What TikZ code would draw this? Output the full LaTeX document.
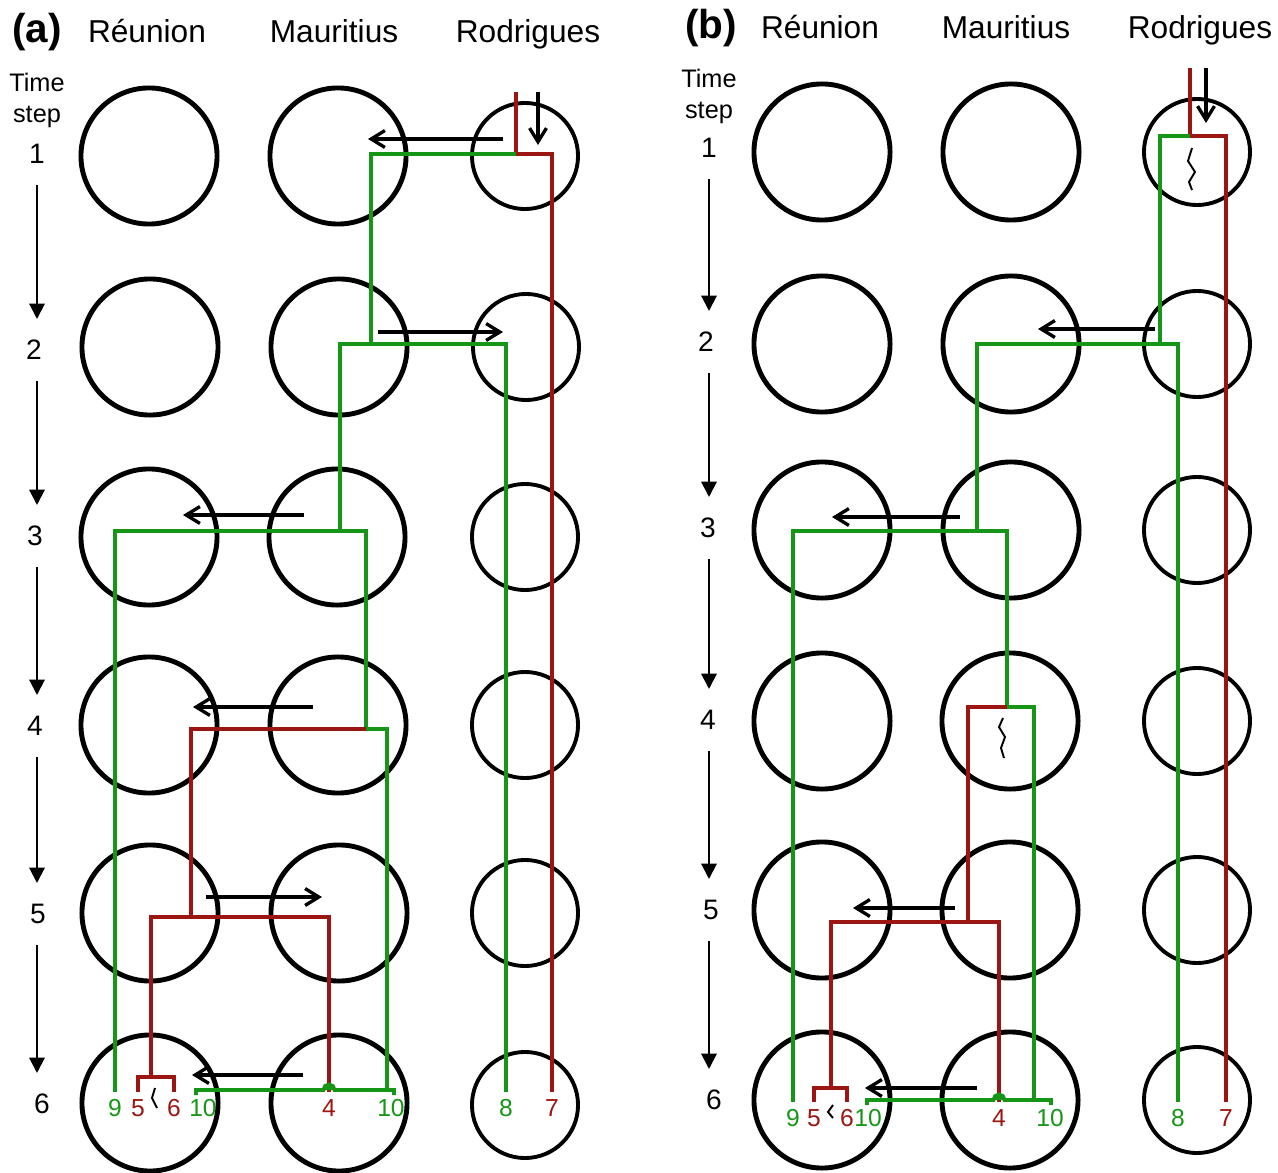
\documentclass[tikz,border=0pt]{standalone}
\usepackage{fontspec}
\setmainfont{Liberation Sans}
\usepackage{xcolor}
\usetikzlibrary{arrows.meta,calc}

\definecolor{lingreen}{RGB}{22,150,22}
\definecolor{linred}{RGB}{155,22,18}

\begin{document}
\begin{tikzpicture}[x=0.01cm, y=-0.01cm]

\tikzstyle{bigisle} = [circle, draw, line width=1.4pt, minimum size=1.36cm, inner sep=0pt]
\tikzstyle{smallisle} = [circle, draw, line width=1.1pt, minimum size=1.06cm, inner sep=0pt]
\tikzstyle{isletitle} = [font=\fontsize{9}{11}\selectfont, anchor=base]
\tikzstyle{paneltitle} = [font=\bfseries\fontsize{11.5}{13}\selectfont, anchor=base]
\tikzstyle{timelabel} = [font=\fontsize{7.2}{8.8}\selectfont, align=center]
\tikzstyle{stepnum} = [font=\fontsize{8}{10}\selectfont]
\tikzstyle{leaf} = [font=\fontsize{7}{8}\selectfont, inner sep=2pt]
\tikzstyle{glin} = [lingreen, line width=1.1pt]
\tikzstyle{rlin} = [linred, line width=1.1pt]
\tikzstyle{mig} = [line width=0.95pt, -{Straight Barb[length=3.9pt,width=4.8pt]}]
\tikzstyle{tarrow} = [line width=0.6pt, -{Triangle[length=4.4pt,width=4.4pt]}, shorten <=3.1mm, shorten >=3.1mm]
\tikzstyle{zig} = [line width=0.55pt]

\useasboundingbox (0,0) rectangle (1278,1173);

% panel (a)
\node[paneltitle] (atitle) at (37,43) {(a)};
\node[isletitle] (areuT) at (147,43) {Réunion};
\node[isletitle] (amauT) at (334,43) {Mauritius};
\node[isletitle] (arodT) at (528,43) {Rodrigues};
\node[timelabel] (atime) at (37,100) {Time\\step};

\node[stepnum] (at1) at (37,154) {1};
\node[stepnum] (at2) at (34,350) {2};
\node[stepnum] (at3) at (35,536) {3};
\node[stepnum] (at4) at (35,726) {4};
\node[stepnum] (at5) at (38,914) {5};
\node[stepnum] (at6) at (42,1104) {6};

\node[bigisle] (aReu1) at (149,156) {};
\node[bigisle] (aMau1) at (338,156) {};
\node[smallisle] (aRod1) at (525,156) {};
\node[bigisle] (aReu2) at (150,347) {};
\node[bigisle] (aMau2) at (339,347) {};
\node[smallisle] (aRod2) at (526,347) {};
\node[bigisle] (aReu3) at (149,537) {};
\node[bigisle] (aMau3) at (337,537) {};
\node[smallisle] (aRod3) at (525,537) {};
\node[bigisle] (aReu4) at (149,725) {};
\node[bigisle] (aMau4) at (338,725) {};
\node[smallisle] (aRod4) at (525,725) {};
\node[bigisle] (aReu5) at (150,913) {};
\node[bigisle] (aMau5) at (339,913) {};
\node[smallisle] (aRod5) at (525,913) {};
\node[bigisle] (aReu6) at (150,1103) {};
\node[bigisle] (aMau6) at (339,1103) {};
\node[smallisle] (aRod6) at (525,1105) {};

\draw[tarrow] (at1.center) -- (at1.center |- at2.center);
\draw[tarrow] (at2.center -| at1.center) -- (at1.center |- at3.center);
\draw[tarrow] (at3.center -| at1.center) -- (at1.center |- at4.center);
\draw[tarrow] (at4.center -| at1.center) -- (at1.center |- at5.center);
\draw[tarrow] (at5.center -| at1.center) -- (at1.center |- at6.center);

\draw[mig] ($(aRod1)+(13,-64)$) -- ($(aRod1)+(13,-11)$);
\draw[mig] ($(aRod1)+(-22,-17)$) -- ($(aMau1)+(30,-17)$);
\draw[mig] ($(aMau2)+(39,-15)$) -- ($(aRod2)+(-23,-15)$);
\draw[mig] ($(aMau3)+(-33,-22)$) -- ($(aReu3)+(34,-22)$);
\draw[mig] ($(aMau4)+(-25,-18)$) -- ($(aReu4)+(44,-18)$);
\draw[mig] ($(aReu5)+(56,-16)$) -- ($(aMau5)+(-17,-16)$);
\draw[mig] ($(aMau6)+(-36,-28)$) -- ($(aReu6)+(42,-28)$);

\node[leaf, text=lingreen] (al9) at (115,1108) {9};
\node[leaf, text=linred] (al5) at (138,1108) {5};
\node[leaf, text=linred] (al6) at (174,1108) {6};
\node[leaf, text=lingreen] (al10a) at (203,1108) {10};
\node[leaf, text=linred] (al4) at (329,1108) {4};
\node[leaf, text=lingreen] (al10b) at (391,1108) {10};
\node[leaf, text=lingreen] (al8) at (506,1108) {8};
\node[leaf, text=linred] (al7) at (552,1108) {7};

\coordinate (aroot) at (516,92);
\coordinate (aj1) at (516,154);
\coordinate (aj2) at (371,344);
\coordinate (aj3) at (340,531);
\coordinate (aj4) at (366,729);
\coordinate (aj5) at (191,917);
\coordinate (aj6) at (151,1077);
\coordinate (a10j) at (387,1090);
\coordinate (a10l) at (196,1090);
\coordinate (a10r) at (394,1090);
\coordinate (ahop) at (al4.north |- a10l);

\draw[rlin] (aroot) -- (aj1) -| (al7.north);
\draw[glin] (aj1) -| (aj2) -| (al8.north);
\draw[glin] (aj2) -| (aj3) -| (al9.north);
\draw[glin] (aj3) -| (aj4) -| (a10j);
\draw[rlin] (aj4) -| (aj5) -| (aj6) -| (al5.north);
\draw[rlin] (aj5) -| (al4.north);
\draw[rlin] (aj6) -| (al6.north);
\draw[glin] ([yshift=-0.5mm]a10l) -- (a10l) -- ([xshift=-0.55mm]ahop) arc (180:0:0.55mm) -- (a10r) -- ([yshift=-0.5mm]a10r);
\fill[lingreen] ([xshift=-0.55mm]ahop) arc (180:0:0.55mm) -- cycle;
\draw[zig] ($(aj6)+(4,11)$) -- ++(-3,10) -- ++(5,10);

% panel (b)
\node[paneltitle] (btitle) at (711,39) {(b)};
\node[isletitle] (breuT) at (820,39) {Réunion};
\node[isletitle] (bmauT) at (1006,39) {Mauritius};
\node[isletitle] (brodT) at (1200,39) {Rodrigues};
\node[timelabel] (btime) at (709,96) {Time\\step};

\node[stepnum] (bt1) at (709,148) {1};
\node[stepnum] (bt2) at (706,342) {2};
\node[stepnum] (bt3) at (708,528) {3};
\node[stepnum] (bt4) at (708,720) {4};
\node[stepnum] (bt5) at (711,910) {5};
\node[stepnum] (bt6) at (714,1100) {6};

\node[bigisle] (bReu1) at (822,152) {};
\node[bigisle] (bMau1) at (1011,152) {};
\node[smallisle] (bRod1) at (1197,152) {};
\node[bigisle] (bReu2) at (822,344) {};
\node[bigisle] (bMau2) at (1011,344) {};
\node[smallisle] (bRod2) at (1197,344) {};
\node[bigisle] (bReu3) at (822,530) {};
\node[bigisle] (bMau3) at (1011,530) {};
\node[smallisle] (bRod3) at (1197,530) {};
\node[bigisle] (bReu4) at (822,721) {};
\node[bigisle] (bMau4) at (1010,721) {};
\node[smallisle] (bRod4) at (1197,721) {};
\node[bigisle] (bReu5) at (822,910) {};
\node[bigisle] (bMau5) at (1010,910) {};
\node[smallisle] (bRod5) at (1197,910) {};
\node[bigisle] (bReu6) at (822,1100) {};
\node[bigisle] (bMau6) at (1010,1100) {};
\node[smallisle] (bRod6) at (1197,1100) {};

\draw[tarrow] (bt1.center) -- (bt1.center |- bt2.center);
\draw[tarrow] (bt2.center -| bt1.center) -- (bt1.center |- bt3.center);
\draw[tarrow] (bt3.center -| bt1.center) -- (bt1.center |- bt4.center);
\draw[tarrow] (bt4.center -| bt1.center) -- (bt1.center |- bt5.center);
\draw[tarrow] (bt5.center -| bt1.center) -- (bt1.center |- bt6.center);

\draw[mig] ($(bRod1)+(9,-84)$) -- ($(bRod1)+(9,-29)$);
\draw[mig] ($(bRod2)+(-42,-15)$) -- ($(bMau2)+(27,-15)$);
\draw[mig] ($(bMau3)+(-51,-13)$) -- ($(bReu3)+(10,-13)$);
\draw[mig] ($(bMau5)+(-55,-2)$) -- ($(bReu5)+(31,-2)$);
\draw[mig] ($(bMau6)+(-33,-12)$) -- ($(bReu6)+(43,-12)$);

\node[leaf, text=lingreen] (bl9) at (793,1118) {9};
\node[leaf, text=linred] (bl5) at (814,1118) {5};
\node[leaf, text=linred] (bl6) at (847,1118) {6};
\node[leaf, text=lingreen] (bl10a) at (868,1118) {10};
\node[leaf, text=linred] (bl4) at (999,1118) {4};
\node[leaf, text=lingreen] (bl10b) at (1050,1118) {10};
\node[leaf, text=lingreen] (bl8) at (1178,1118) {8};
\node[leaf, text=linred] (bl7) at (1226,1118) {7};

\coordinate (broot) at (1190,68);
\coordinate (bj1) at (1190,136);
\coordinate (bj2) at (1160,344);
\coordinate (bj3) at (977,531);
\coordinate (bj4) at (1007,707);
\coordinate (bj5) at (968,922);
\coordinate (bj6) at (831,1088);
\coordinate (b10j) at (1034,1100);
\coordinate (b10l) at (867,1100);
\coordinate (b10r) at (1051,1100);
\coordinate (bhop) at (bl4.north |- b10l);

\draw[rlin] (broot) -- (bj1) -| (bl7.north);
\draw[glin] (bj1) -| (bj2) -| (bl8.north);
\draw[glin] (bj2) -| (bj3) -| (bl9.north);
\draw[glin] (bj3) -| (bj4) -| (b10j);
\draw[rlin] (bj4) -| (bj5) -| (bj6) -| (bl5.north);
\draw[rlin] (bj5) -| (bl4.north);
\draw[rlin] (bj6) -| (bl6.north);
\draw[glin] ([yshift=-0.5mm]b10l) -- (b10l) -- ([xshift=-0.55mm]bhop) arc (180:0:0.55mm) -- (b10r) -- ([yshift=-0.5mm]b10r);
\fill[lingreen] ([xshift=-0.55mm]bhop) arc (180:0:0.55mm) -- cycle;
\draw[zig] ($(bRod1)+(-5,-4)$) -- ++(-4,13) -- ++(7,11) -- ++(-6,10) -- ++(3,8);
\draw[zig] ($(bMau4)+(-7,-3)$) -- ++(-4,9) -- ++(6,10) -- ++(-4,11) -- ++(3,10);
\draw[zig] ($(bj6)+(2,17)$) -- ++(-5,7) -- ++(5,6);

\end{tikzpicture}
\end{document}
